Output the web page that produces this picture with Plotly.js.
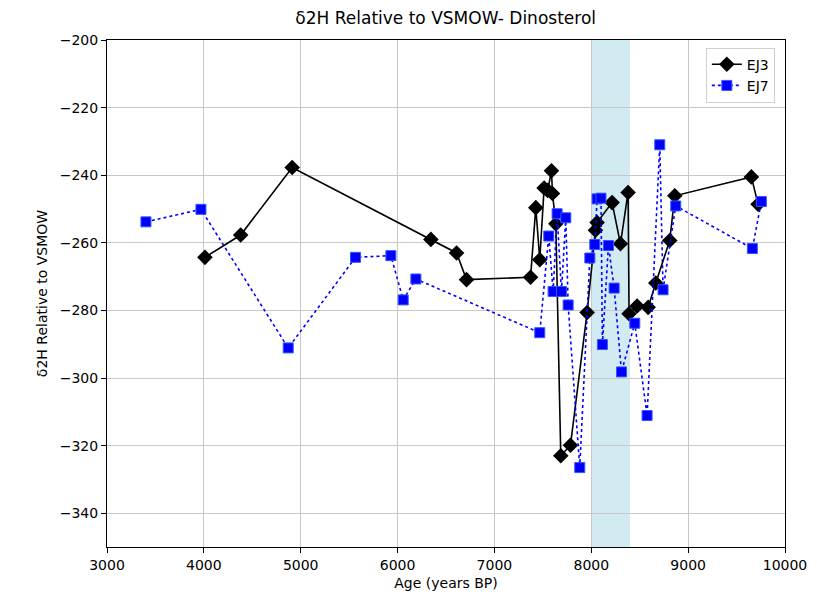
<!DOCTYPE html>
<html><head><meta charset="utf-8">
<script src="https://cdn.plot.ly/plotly-3.0.1.min.js"></script>
<style>html,body{margin:0;padding:0;background:#fff;}#chart{width:817px;height:608px;}</style>
</head><body><div id="chart"></div>
<script>
const ej3Age = [4011, 4380, 4912, 6344, 6609, 6712, 7373, 7427, 7468, 7513, 7550, 7589, 7599, 7634, 7685, 7785, 7957, 8043, 8060, 8215, 8301, 8380, 8390, 8473, 8587, 8666, 8810, 8862, 9653, 9722];
const ej3Val = [-264.3, -257.7, -237.7, -259.0, -263.0, -270.9, -270.2, -249.6, -265.0, -243.8, -244.5, -238.7, -245.4, -254.4, -323.0, -319.9, -280.6, -256.3, -254.0, -248.1, -260.3, -245.1, -281.0, -278.7, -279.1, -271.9, -259.3, -246.1, -240.5, -248.6];
const ej7Age = [3402, 3970, 4871, 5566, 5931, 6058, 6189, 7468, 7561, 7606, 7647, 7692, 7737, 7761, 7881, 7985, 8036, 8060, 8100, 8115, 8177, 8236, 8312, 8449, 8576, 8707, 8741, 8872, 9663, 9756];
const ej7Val = [-253.8, -250.1, -291.1, -264.3, -263.8, -276.9, -270.7, -286.6, -258.0, -274.4, -251.4, -274.4, -252.6, -278.4, -326.5, -264.5, -260.5, -247.0, -246.8, -290.1, -260.8, -273.4, -298.2, -283.8, -311.1, -231.0, -273.9, -249.1, -261.7, -247.8];
const bandStart = 8000, bandEnd = 8400;
const titleText = 'δ2H Relative to VSMOW- Dinosterol';
const xLabel = 'Age (years BP)';
const yLabel = 'δ2H Relative to VSMOW';

const font = 'DejaVu Sans, sans-serif';
const traces = [
  {x: ej3Age, y: ej3Val, name: 'EJ3', type: 'scatter', mode: 'lines+markers',
   line: {color: 'black', width: 1.6},
   marker: {symbol: 'diamond', size: 12, color: 'black'}},
  {x: ej7Age, y: ej7Val, name: 'EJ7', type: 'scatter', mode: 'lines+markers',
   line: {color: 'blue', width: 1.6, dash: 'dot'},
   marker: {symbol: 'square', size: 10, color: 'blue', line: {color: '#3355ff', width: 1}}}
];
const axisCommon = {showline: true, linecolor: 'black', linewidth: 1, mirror: true,
  ticks: 'outside', ticklen: 5, tickcolor: 'black', showgrid: true, gridcolor: '#c8c8c8', gridwidth: 1,
  zeroline: false, tickfont: {family: font, size: 14, color: 'black'}};
const layout = {
  width: 817, height: 608,
  margin: {l: 107, r: 32, t: 40, b: 61},
  paper_bgcolor: 'white', plot_bgcolor: 'white',
  title: {text: titleText, font: {family: font, size: 17, color: 'black'}, x: 0.5455, xanchor: 'center', y: 0.97, yanchor: 'middle'},
  xaxis: Object.assign({}, axisCommon, {range: [3000, 10000], dtick: 1000, tick0: 3000, tickformat: 'd',
    title: {text: xLabel, font: {family: font, size: 14, color: 'black'}, standoff: 6}}),
  yaxis: Object.assign({}, axisCommon, {range: [-350, -200], dtick: 20, tick0: -340,
    title: {text: yLabel, font: {family: font, size: 14, color: 'black'}, standoff: 8}}),
  shapes: [{type: 'rect', xref: 'x', yref: 'paper', x0: bandStart, x1: bandEnd, y0: 0, y1: 1,
    fillcolor: 'rgba(173,216,230,0.55)', line: {width: 0}, layer: 'below'}],
  legend: {x: 0.985, xanchor: 'right', y: 0.985, yanchor: 'top', bgcolor: 'rgba(255,255,255,0.8)',
    bordercolor: '#d0d0d0', borderwidth: 1, font: {family: font, size: 14, color: 'black'}},
  showlegend: true
};
Plotly.newPlot('chart', traces, layout, {displayModeBar: false, staticPlot: true});
</script></body></html>
